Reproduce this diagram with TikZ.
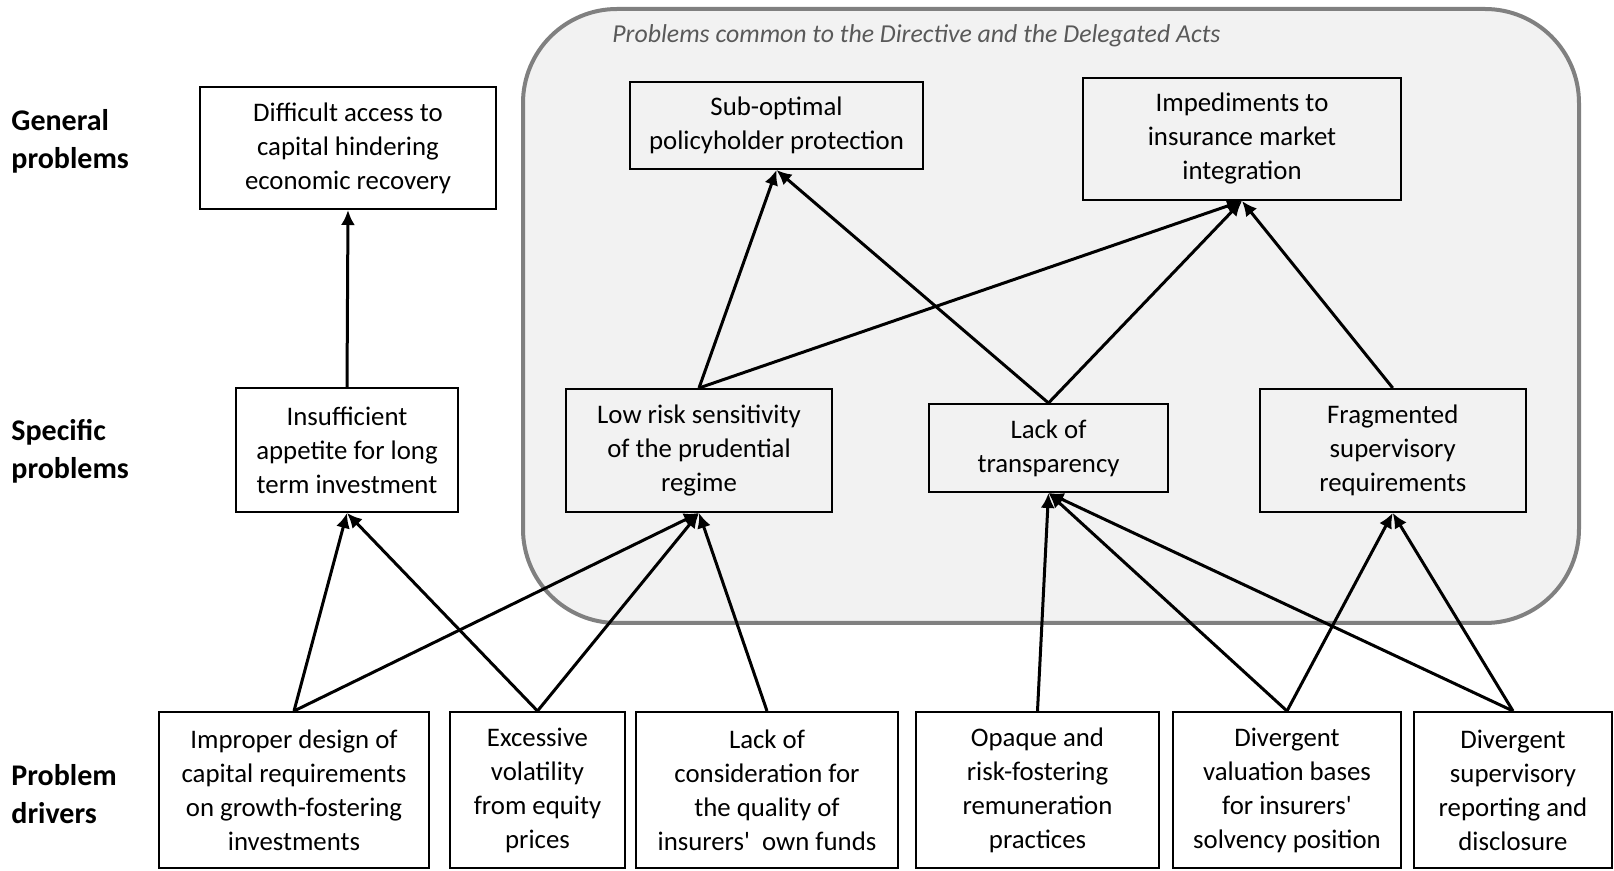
\documentclass[tikz,border=0pt]{standalone}
\usepackage{fontspec}
\setmainfont{Carlito}[Ligatures=TeXOff]
\usetikzlibrary{arrows.meta}
\definecolor{panel}{HTML}{F2F2F2}
\definecolor{panelline}{HTML}{808080}
\definecolor{titlegray}{HTML}{595959}
\tikzset{
  box/.style={draw=black, line width=1pt, fill=white, align=center, inner sep=2pt,
    font=\fontsize{13.4}{17}\selectfont},
  inbox/.style={box, fill=panel},
  link/.style={line width=1.5pt, -{Latex[length=7.5pt,width=7pt]}},
  level/.style={anchor=west, align=left, inner sep=0pt, font=\fontsize{15}{19}\selectfont\bfseries}
}
\begin{document}
\begin{tikzpicture}[x=0.5pt,y=-0.5pt]
\useasboundingbox (0,0) rectangle (1614,871);
% panel
\draw[draw=panelline, line width=2pt, fill=panel, rounded corners=47pt] (523,9) rectangle (1579,623);
\node[anchor=west, inner sep=0pt, text=titlegray, font=\fontsize{12.9}{15}\selectfont\itshape] (title) at (612,36) {Problems common to the Directive and the Delegated Acts};
% level labels
\node[level] (lg) at (11,141) {General\\problems};
\node[level] (ls) at (11,451) {Specific\\problems};
\node[level] (ld) at (11,794) {Problem\\drivers};
% general problems
\node[box, minimum width=147.75pt, minimum height=61pt] (diff) at (348,148) {Difficult access to\\capital hindering\\economic recovery};
\node[inbox, minimum width=146.5pt, minimum height=43.5pt] (subopt) at (776.5,125.5) {Sub-optimal\\policyholder protection};
\node[inbox, minimum width=158.75pt, minimum height=61pt] (imped) at (1242,139) {Impediments to\\insurance market\\integration};
% specific problems
\node[box, minimum width=111pt, minimum height=62pt] (insuff) at (347,450) {Insufficient\\appetite for long\\term investment};
\node[inbox, minimum width=133pt, minimum height=61.5pt] (lowrisk) at (699,450.5) {Low risk sensitivity\\of the prudential\\regime};
\node[inbox, minimum width=119.5pt, minimum height=44pt] (lack) at (1048.5,448) {Lack of\\transparency};
\node[inbox, minimum width=133.25pt, minimum height=61.5pt] (frag) at (1392.75,450.5) {Fragmented\\supervisory\\requirements};
% drivers
\node[box, minimum width=135pt, minimum height=78pt] (d1) at (294,790) {Improper design of\\capital requirements\\on growth-fostering\\investments};
\node[box, minimum width=87.5pt, minimum height=78pt] (d2) at (537.5,790) {Excessive\\volatility\\from equity\\prices};
\node[box, minimum width=131pt, minimum height=78pt] (d3) at (767,790) {Lack of\\consideration for\\the quality of\\insurers'\ \ own funds};
\node[box, minimum width=121.5pt, minimum height=78pt] (d4) at (1037.5,790) {Opaque and\\risk-fostering\\remuneration\\practices};
\node[box, minimum width=114pt, minimum height=78pt] (d5) at (1287,790) {Divergent\\valuation bases\\for insurers'\\solvency position};
\node[box, minimum width=99pt, minimum height=78pt] (d6) at (1513,790) {Divergent\\supervisory\\reporting and\\disclosure};
% links
\draw[link] (insuff.north) -- (diff.south);
\draw[link] (lowrisk.north) -- (subopt.south);
\draw[link] (lack.north) -- (subopt.south);
\draw[link] (lowrisk.north) -- (imped.south);
\draw[link] (lack.north) -- (imped.south);
\draw[link] (frag.north) -- (imped.south);
\draw[link] (d1.north) -- (insuff.south);
\draw[link] (d2.north) -- (insuff.south);
\draw[link] (d1.north) -- (lowrisk.south);
\draw[link] (d2.north) -- (lowrisk.south);
\draw[link] (d3.north) -- (lowrisk.south);
\draw[link] (d4.north) -- (lack.south);
\draw[link] (d5.north) -- (lack.south);
\draw[link] (d6.north) -- (lack.south);
\draw[link] (d5.north) -- (frag.south);
\draw[link] (d6.north) -- (frag.south);
\end{tikzpicture}
\end{document}
